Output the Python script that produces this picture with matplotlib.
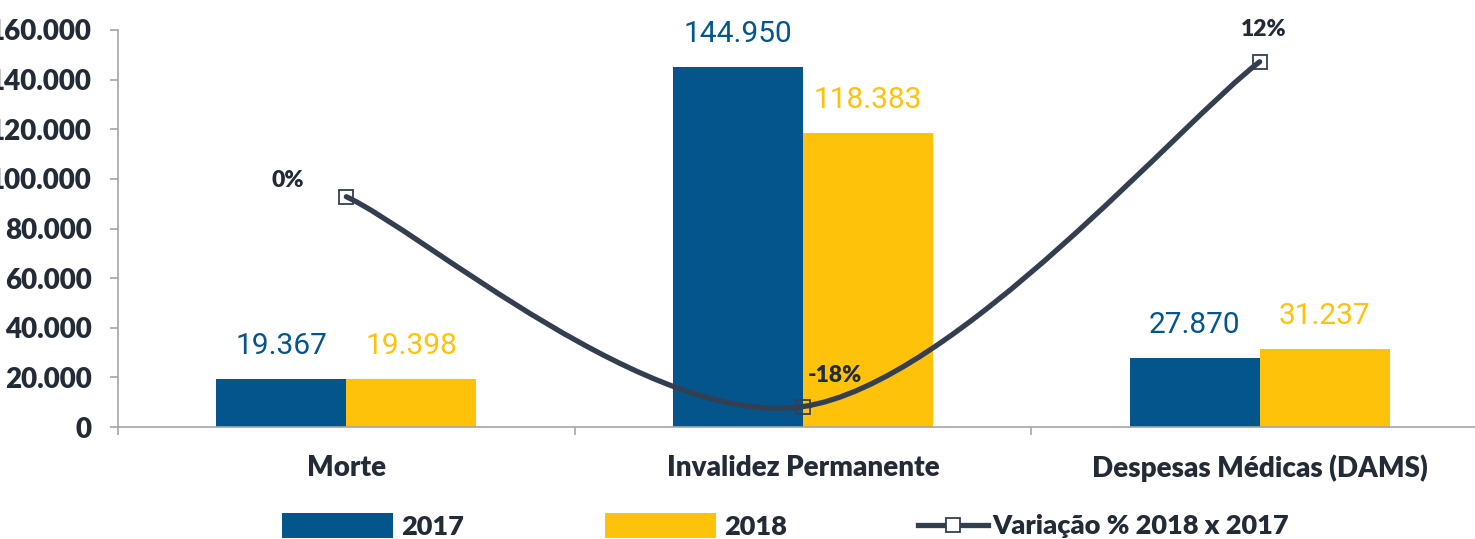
import matplotlib.pyplot as plt
from matplotlib.path import Path
from matplotlib.patches import PathPatch
from matplotlib.ticker import FuncFormatter
import numpy as np

# === data ===
categories = ['Morte', 'Invalidez Permanente', 'Despesas Médicas (DAMS)']
values_2017 = [19367, 144950, 27870]
values_2018 = [19398, 118383, 31237]
variacao = [0.2, -18.3, 12.1]
variacao_labels = ['0%', '-18%', '12%']

blue = '#03558C'
yellow = '#FFC20A'
dark = '#232B37'
line_col = '#333F50'
gray = '#A6A6A6'

bold_font = ['Lato', 'DejaVu Sans']
digits = ['Roboto', 'DejaVu Sans']
heavy = 800

fig = plt.figure(figsize=(14.75, 5.39), dpi=100)
ax = fig.add_axes([118 / 1475, 112 / 539, 1370 / 1475, 397 / 539])

x = np.arange(len(categories))
w = 0.285
ax.bar(x - w, values_2017, w, align='edge', color=blue, label='2017')
ax.bar(x, values_2018, w, align='edge', color=yellow, label='2018')

for xi, v in zip(x, values_2017):
    ax.annotate(f'{v:,}'.replace(',', '.'), (xi - w / 2, v), xytext=(0, 18),
                textcoords='offset points', ha='center', va='baseline',
                color=blue, fontsize=21.5, family=digits)
for xi, v in zip(x, values_2018):
    ax.annotate(f'{v:,}'.replace(',', '.'), (xi + w / 2, v), xytext=(0, 18),
                textcoords='offset points', ha='center', va='baseline',
                color=yellow, fontsize=21.5, family=digits)

ax.set_xlim(-0.5, 2.5)
ax.set_ylim(0, 160000)
ax.set_yticks(range(0, 160001, 20000))
ax.yaxis.set_major_formatter(FuncFormatter(lambda v, p: f'{int(v):,}'.replace(',', '.')))
ax.set_xticks(x)
ax.set_xticklabels(categories)
ax.set_xticks([-0.5, 0.5, 1.5, 2.5], minor=True)
ax.tick_params(axis='x', which='major', length=0, pad=20)
ax.tick_params(axis='x', which='minor', length=6, color=gray, width=1.2)
ax.tick_params(axis='y', length=6, color=gray, width=1.2, pad=13)
for lab in ax.get_xticklabels() + ax.get_yticklabels():
    lab.set_family(bold_font)
    lab.set_fontweight(heavy)
    lab.set_color(dark)
for lab in ax.get_xticklabels():
    lab.set_fontsize(20)
for lab in ax.get_yticklabels():
    lab.set_fontsize(20)
for s in ['top', 'right']:
    ax.spines[s].set_visible(False)
for s in ['left', 'bottom']:
    ax.spines[s].set_color(gray)
    ax.spines[s].set_linewidth(1.2)

# secondary axis for the variation line
ax2 = ax.twinx()
ax2.set_ylim(-20.1, 14.9)
ax2.axis('off')

# smoothed line (Bezier, Catmull-Rom style control points)
pts = np.column_stack([x, variacao]).astype(float)
verts = [pts[0]]
codes = [Path.MOVETO]
n = len(pts)
for i in range(n - 1):
    p_prev = pts[max(i - 1, 0)]
    p0 = pts[i]
    p1 = pts[i + 1]
    p_next = pts[min(i + 2, n - 1)]
    c1 = p0 + (p1 - p_prev) / 6
    c2 = p1 - (p_next - p0) / 6
    verts += [c1, c2, p1]
    codes += [Path.CURVE4] * 3
ax2.add_patch(PathPatch(Path(verts, codes), facecolor='none', edgecolor=line_col,
                        lw=3.8, capstyle='round', zorder=3))
ax2.plot(x, variacao, linestyle='none', marker='s', markersize=9.5,
         markerfacecolor='none', markeredgecolor=line_col, markeredgewidth=1.3, zorder=4)

offsets = [(-42, 4), (23, 15), (3, 16)]
for xi, v, lab, off in zip(x, variacao, variacao_labels, offsets):
    ax2.annotate(lab, (xi, v), xytext=off, textcoords='offset points',
                 ha='center', va='bottom', fontsize=16.5, fontweight=heavy,
                 color=dark, family=bold_font)

# legends
legend_prop = {'family': bold_font, 'weight': heavy, 'size': 19.5}
h1, l1 = ax.get_legend_handles_labels()
leg1 = fig.legend(h1, l1, loc='center left', bbox_to_anchor=(282 / 1475, 13 / 539),
                  ncol=2, frameon=False, handlelength=4.1, handleheight=1.05,
                  handletextpad=0.3, columnspacing=5.2, borderpad=0,
                  borderaxespad=0, prop=legend_prop)
line_handle, = ax2.plot([], [], color=line_col, lw=3.8, marker='s', markersize=9.5,
                        markerfacecolor='white', markeredgecolor=line_col,
                        markeredgewidth=1.3)
leg2 = fig.legend([line_handle], ['Variação % 2018 x 2017'], loc='center left',
                  bbox_to_anchor=(918 / 1475, 13 / 539), frameon=False,
                  handlelength=2.6, handletextpad=0.15, borderpad=0,
                  borderaxespad=0, prop=legend_prop)
for leg in (leg1, leg2):
    for t in leg.get_texts():
        t.set_color(dark)

fig.savefig('out.png', dpi=100)
